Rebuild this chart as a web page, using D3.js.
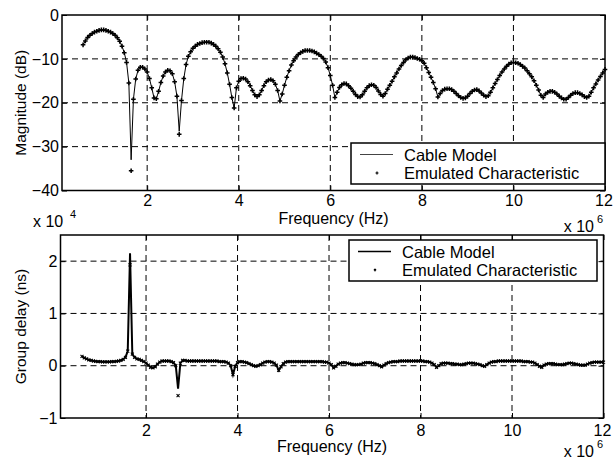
<!DOCTYPE html>
<html>
<head>
<meta charset="utf-8">
<script src="https://cdn.jsdelivr.net/npm/d3@7"></script>
<style>
body { margin: 0; background: #fff; }
text { font-family: "Liberation Sans", Arial, sans-serif; fill: #000; }
</style>
</head>
<body>
<div id="chart"></div>
<script>
// 1. DATA
// frequency grid in MHz (axis is labelled x 10^6 Hz)
const freqStart = 0.6;
const freqStep = 0.05;

// cable model magnitude (dB), one value per grid point, 0.60 .. 12.00 MHz
const magnitudeModel = [
    -6.8, -5.9, -5.1, -4.6, -4.2, -3.9, -3.7, -3.5, -3.4, -3.4,          // 0.60
    -3.5, -3.7, -3.9, -4.2, -4.6, -5.2, -6.0, -7.1, -8.6, -10.8,         // 1.10
    -15.5, -33.0, -19.2, -14.6, -12.6, -11.9, -11.9, -12.3, -13.0, -14.5, // 1.60
    -16.6, -18.9, -19.1, -17.4, -15.4, -13.9, -13.0, -12.6, -12.7, -13.4, // 2.10
    -15.2, -18.5, -26.5, -19.5, -14.5, -11.3, -9.4, -8.4, -7.6, -7.1,    // 2.60
    -6.7, -6.5, -6.3, -6.2, -6.2, -6.2, -6.4, -6.7, -7.1, -7.7,          // 3.10
    -8.5, -9.6, -11.1, -13.2, -15.8, -18.8, -21.2, -16.6, -15.1, -14.5,  // 3.60
    -14.4, -14.6, -15.2, -16.1, -17.2, -18.2, -18.6, -18.2, -17.2, -16.1, // 4.10
    -15.2, -14.8, -14.7, -15.0, -15.8, -17.2, -19.6, -18.0, -16.0, -14.2, // 4.60
    -12.7, -11.4, -10.4, -9.6, -9.0, -8.6, -8.3, -8.1, -8.1, -8.1,       // 5.10
    -8.2, -8.4, -8.7, -9.0, -9.4, -9.9, -10.7, -12.0, -13.8, -16.0,      // 5.60
    -18.8, -17.6, -16.5, -15.9, -15.6, -15.7, -16.1, -16.7, -17.4, -18.1, // 6.10
    -18.6, -18.7, -18.2, -17.4, -16.6, -16.1, -15.9, -16.0, -16.5, -17.3, // 6.60
    -18.1, -18.5, -17.9, -16.9, -16.0, -15.1, -14.1, -13.2, -12.3, -11.5, // 7.10
    -10.8, -10.2, -9.8, -9.6, -9.6, -9.7, -9.9, -10.1, -10.4, -11.0,     // 7.60
    -12.0, -13.1, -14.2, -15.4, -16.8, -18.7, -17.9, -17.2, -16.9, -16.8, // 8.10
    -16.8, -17.0, -17.4, -17.9, -18.4, -18.8, -19.0, -18.9, -18.5, -17.9, // 8.60
    -17.4, -17.1, -17.0, -17.3, -17.8, -18.3, -18.6, -18.4, -17.6, -16.6, // 9.10
    -15.6, -14.7, -13.8, -13.0, -12.3, -11.7, -11.2, -10.9, -10.8, -10.9, // 9.60
    -11.0, -11.3, -11.7, -12.1, -12.7, -13.4, -14.1, -15.0, -16.0, -17.1, // 10.10
    -18.3, -18.8, -18.0, -17.6, -17.4, -17.4, -17.6, -18.0, -18.5, -18.9, // 10.60
    -19.2, -19.2, -18.8, -18.3, -17.9, -17.7, -17.7, -17.9, -18.2, -18.6, // 11.10
    -18.8, -18.5, -17.6, -16.6, -15.7, -14.8, -14.0, -13.2, -12.4         // 11.60
];
// emulated characteristic follows the model except in the deep notches
const magnitudeEmulatedNotches = [[1.65, -35.5], [2.70, -27.2]];

// cable model group delay (x 10^4 ns), same grid
const groupDelayModel = [
    0.18, 0.15, 0.13, 0.11, 0.10, 0.09, 0.085, 0.08, 0.08, 0.075,   // 0.60
    0.075, 0.075, 0.075, 0.08, 0.08, 0.085, 0.09, 0.10, 0.12, 0.16, // 1.10
    0.28, 2.15, 0.22, 0.16, 0.13, 0.12, 0.10, 0.08, 0.05, 0.01,     // 1.60
    -0.03, -0.04, -0.02, 0.03, 0.07, 0.09, 0.09, 0.09, 0.09, 0.08,  // 2.10
    0.06, 0.00, -0.44, 0.05, 0.10, 0.10, 0.09, 0.09, 0.09, 0.09,    // 2.60
    0.09, 0.09, 0.09, 0.09, 0.09, 0.09, 0.09, 0.09, 0.09, 0.09,     // 3.10
    0.08, 0.08, 0.08, 0.07, 0.05, 0.00, -0.17, -0.01, 0.06, 0.08,   // 3.60
    0.08, 0.07, 0.06, 0.04, 0.02, 0.00, -0.01, 0.00, 0.02, 0.05,    // 4.10
    0.07, 0.08, 0.08, 0.07, 0.05, 0.01, -0.09, -0.02, 0.04, 0.07,   // 4.60
    0.08, 0.08, 0.08, 0.08, 0.08, 0.08, 0.08, 0.08, 0.08, 0.08,     // 5.10
    0.08, 0.08, 0.08, 0.08, 0.08, 0.08, 0.07, 0.07, 0.05, 0.02,     // 5.60
    -0.04, -0.01, 0.03, 0.05, 0.06, 0.06, 0.05, 0.04, 0.03, 0.02,   // 6.10
    0.02, 0.02, 0.03, 0.05, 0.06, 0.06, 0.06, 0.05, 0.04, 0.02,     // 6.60
    0.00, -0.02, 0.01, 0.04, 0.06, 0.07, 0.08, 0.08, 0.08, 0.09,    // 7.10
    0.09, 0.09, 0.09, 0.09, 0.09, 0.09, 0.09, 0.09, 0.09, 0.09,     // 7.60
    0.08, 0.08, 0.07, 0.05, 0.02, -0.03, 0.00, 0.04, 0.05, 0.05,    // 8.10
    0.05, 0.04, 0.04, 0.03, 0.03, 0.02, 0.02, 0.03, 0.04, 0.05,     // 8.60
    0.05, 0.05, 0.04, 0.03, 0.02, 0.00, -0.01, 0.02, 0.05, 0.07,    // 9.10
    0.08, 0.08, 0.09, 0.09, 0.09, 0.09, 0.09, 0.09, 0.09, 0.09,     // 9.60
    0.09, 0.09, 0.09, 0.08, 0.08, 0.08, 0.07, 0.07, 0.05, 0.02,     // 10.10
    -0.01, -0.03, 0.01, 0.03, 0.04, 0.04, 0.04, 0.03, 0.02, 0.02,   // 10.60
    0.02, 0.03, 0.04, 0.05, 0.05, 0.04, 0.03, 0.02, 0.01, 0.01,     // 11.10
    0.01, 0.03, 0.05, 0.06, 0.07, 0.07, 0.07, 0.07, 0.07            // 11.60
];
const groupDelayEmulatedNotches = [[1.65, 1.93], [2.70, -0.57]];

const freqTicks = [2, 4, 6, 8, 10, 12];
const magnitudeTicks = [0, -10, -20, -30, -40];
const groupDelayTicks = [-1, 0, 1, 2];
const legendLabels = ["Cable Model", "Emulated Characteristic"];

// 2. SETUP
const width = 613;
const height = 460;
const fontSize = 16;

const svg = d3.select("#chart")
    .append("svg")
    .attr("width", width)
    .attr("height", height);

const freqs = magnitudeModel.map((d, i) => +(freqStart + i * freqStep).toFixed(2));

function withNotches(values, notches) {
    return values.map((v, i) => {
        const hit = notches.find(n => Math.abs(n[0] - freqs[i]) < 1e-6);
        return hit ? hit[1] : v;
    });
}

const panels = [
    {
        left: 62, right: 605, top: 15, bottom: 190.5,
        xDomain: [0.14, 12], yDomain: [-40, 0], yTicks: magnitudeTicks,
        model: magnitudeModel,
        emulated: withNotches(magnitudeModel, magnitudeEmulatedNotches),
        marker: "M-2.3,0H2.3M0,-2.3V2.3", markerWidth: 1.5, lineWidth: 1,
        ylabel: "Magnitude (dB)",
        tickBaseline: 206, xlabelBaseline: 224, xExpBaseline: 232,
        legend: { x: 351, y: 143, w: 254, h: 41 }
    },
    {
        left: 60.5, right: 603.5, top: 235, bottom: 418,
        xDomain: [0.13, 12], yDomain: [-1, 2.5], yTicks: groupDelayTicks,
        model: groupDelayModel,
        emulated: withNotches(groupDelayModel, groupDelayEmulatedNotches),
        marker: "M-1.5,-1.5L1.5,1.5M-1.5,1.5L1.5,-1.5", markerWidth: 1.1, lineWidth: 2,
        ylabel: "Group delay (ns)",
        tickBaseline: 436, xlabelBaseline: 452, xExpBaseline: 456.5,
        legend: { x: 349, y: 240, w: 248, h: 41 }
    }
];

// 3. DRAWING
panels.forEach((p, pi) => {
    const x = d3.scaleLinear().domain(p.xDomain).range([p.left, p.right]);
    const y = d3.scaleLinear().domain(p.yDomain).range([p.bottom, p.top]);
    const g = svg.append("g");

    // dashed grid
    g.append("g").selectAll("line").data(freqTicks.filter(t => t < p.xDomain[1])).join("line")
        .attr("x1", d => x(d)).attr("x2", d => x(d))
        .attr("y1", p.top).attr("y2", p.bottom)
        .attr("stroke", "#000").attr("stroke-width", 1).attr("stroke-dasharray", "6,4");
    g.append("g").selectAll("line").data(p.yTicks.filter(t => t > p.yDomain[0] && t < p.yDomain[1])).join("line")
        .attr("x1", p.left).attr("x2", p.right)
        .attr("y1", d => y(d)).attr("y2", d => y(d))
        .attr("stroke", "#000").attr("stroke-width", 1).attr("stroke-dasharray", "6,4");

    // cable model line
    const line = d3.line().x((d, i) => x(freqs[i])).y(d => y(d));
    g.append("path")
        .attr("d", line(p.model))
        .attr("fill", "none").attr("stroke", "#000").attr("stroke-width", p.lineWidth);

    // emulated characteristic markers
    g.append("g").selectAll("path").data(p.emulated).join("path")
        .attr("transform", (d, i) => `translate(${x(freqs[i])},${y(d)})`)
        .attr("d", p.marker)
        .attr("fill", "none").attr("stroke", "#000").attr("stroke-width", p.markerWidth);

    // axes with inward ticks
    const xAxis = g.append("g").attr("transform", `translate(0,${p.bottom})`)
        .call(d3.axisBottom(x).tickValues(freqTicks).tickFormat(d3.format("d"))
            .tickSizeInner(-5).tickSizeOuter(0).tickPadding(3));
    xAxis.selectAll("text").attr("y", p.tickBaseline - p.bottom).attr("dy", null)
        .attr("dx", d => d === 12 ? -1.5 : 0);
    const yAxis = g.append("g").attr("transform", `translate(${p.left},0)`)
        .call(d3.axisLeft(y).tickValues(p.yTicks).tickFormat(d3.format("d"))
            .tickSizeInner(-5).tickSizeOuter(0).tickPadding(3));
    const topAxis = g.append("g").attr("transform", `translate(0,${p.top})`)
        .call(d3.axisTop(x).tickValues(freqTicks).tickFormat("").tickSizeInner(-5).tickSizeOuter(0));
    const rightAxis = g.append("g").attr("transform", `translate(${p.right},0)`)
        .call(d3.axisRight(y).tickValues(p.yTicks).tickFormat("").tickSizeInner(-5).tickSizeOuter(0));
    [xAxis, yAxis, topAxis, rightAxis].forEach(ag => {
        ag.select(".domain").remove();
        ag.selectAll("line").attr("stroke", "#000");
        ag.selectAll("text").attr("font-size", fontSize).attr("font-family", null).attr("fill", "#000");
    });

    // axes box
    g.append("rect")
        .attr("x", p.left).attr("y", p.top)
        .attr("width", p.right - p.left).attr("height", p.bottom - p.top)
        .attr("fill", "none").attr("stroke", "#000").attr("stroke-width", 1.5);

    // labels
    g.append("text")
        .attr("x", (p.left + p.right) / 2).attr("y", p.xlabelBaseline)
        .attr("text-anchor", "middle").attr("font-size", fontSize)
        .text("Frequency (Hz)");
    g.append("text")
        .attr("transform", `translate(${26},${(p.top + p.bottom) / 2}) rotate(-90)`)
        .attr("text-anchor", "middle").attr("font-size", 15.5)
        .text(p.ylabel);

    // x exponent
    g.append("text")
        .attr("x", 594).attr("y", p.xExpBaseline)
        .attr("text-anchor", "end").attr("font-size", fontSize)
        .text("x 10");
    g.append("text")
        .attr("x", 597).attr("y", p.xExpBaseline - 9)
        .attr("font-size", 11)
        .text("6");

    // legend
    const L = p.legend;
    const lg = g.append("g");
    lg.append("rect")
        .attr("x", L.x).attr("y", L.y).attr("width", L.w).attr("height", L.h)
        .attr("fill", "#fff").attr("stroke", "#000").attr("stroke-width", 1.5);
    const rowY = [L.y + 11.5, L.y + 30];
    lg.append("line")
        .attr("x1", L.x + 9).attr("x2", L.x + 42)
        .attr("y1", rowY[0]).attr("y2", rowY[0])
        .attr("stroke", pi === 0 ? "#444" : "#000").attr("stroke-width", pi === 0 ? 1 : 1.5);
    lg.append("path")
        .attr("transform", `translate(${L.x + 26},${rowY[1]})`)
        .attr("d", pi === 0 ? "M-1.5,0H1.5M0,-1.5V1.5" : "M-1,-1L1,1M-1,1L1,-1")
        .attr("fill", "none").attr("stroke", "#000").attr("stroke-width", 1.2);
    lg.selectAll("text.legend").data(legendLabels).join("text")
        .attr("class", "legend")
        .attr("x", L.x + 53).attr("y", (d, i) => rowY[i] + 6)
        .attr("font-size", 16.5)
        .text(d => d);
});

// group delay y exponent (sits above the lower axes)
svg.append("text").attr("x", 33).attr("y", 227).attr("font-size", fontSize).text("x 10");
svg.append("text").attr("x", 70).attr("y", 218).attr("font-size", 11).text("4");
</script>
</body>
</html>
